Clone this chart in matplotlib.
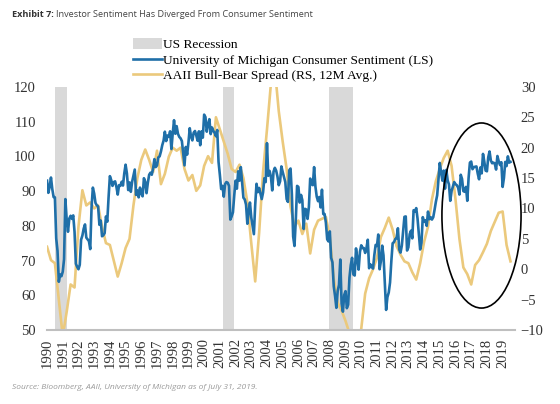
import matplotlib

matplotlib.use("Agg")
import matplotlib.pyplot as plt
import numpy as np
from matplotlib.lines import Line2D
from matplotlib.patches import Ellipse, Patch


# University of Michigan Consumer Sentiment, monthly, Jan 1990 - Jul 2019
UMICH = [
    93.0, 89.5, 91.3, 93.9, 90.6, 88.3, 88.2, 76.4, 72.8, 63.9, 66.0, 65.5,
    66.8, 70.4, 87.7, 81.8, 78.3, 82.1, 82.9, 82.0, 83.0, 78.3, 69.1, 68.2,
    67.5, 68.8, 76.0, 77.2, 79.2, 80.4, 76.6, 76.1, 75.6, 73.3, 85.3, 91.0,
    89.3, 86.6, 85.9, 85.6, 80.3, 81.5, 77.0, 77.3, 77.9, 82.7, 81.2, 88.2,
    94.3, 93.2, 91.5, 92.6, 92.8, 91.2, 89.0, 91.7, 91.5, 92.7, 91.6, 95.1,
    97.6, 95.1, 90.3, 92.5, 89.8, 92.7, 94.4, 96.2, 88.9, 90.2, 88.2, 91.0,
    89.3, 88.5, 93.7, 92.7, 89.4, 92.4, 94.7, 95.3, 94.7, 96.5, 99.2, 96.9,
    97.4, 99.7, 100.0, 101.4, 103.2, 104.5, 107.1, 104.4, 106.0, 105.6, 107.2, 102.1,
    106.6, 110.4, 106.5, 108.7, 106.5, 105.6, 105.2, 104.4, 100.9, 97.4, 102.7, 100.5,
    103.9, 108.1, 105.7, 104.6, 106.8, 107.3, 106.0, 104.5, 107.2, 103.2, 107.2, 105.4,
    112.0, 111.3, 107.1, 109.2, 110.7, 106.4, 108.3, 107.3, 106.8, 105.8, 107.6, 98.4,
    94.7, 90.6, 91.5, 88.4, 92.0, 92.6, 92.4, 91.5, 81.8, 82.7, 83.9, 88.8,
    93.0, 90.7, 95.7, 93.0, 96.9, 92.4, 88.1, 87.6, 86.1, 80.6, 84.2, 86.7,
    82.4, 79.9, 77.6, 86.0, 92.1, 89.7, 90.9, 89.3, 87.7, 89.6, 93.7, 92.6,
    103.8, 94.4, 95.8, 94.2, 90.2, 95.6, 96.7, 95.9, 94.2, 91.7, 92.8, 97.1,
    95.5, 94.1, 92.6, 87.7, 86.9, 96.0, 96.5, 89.1, 76.9, 74.2, 81.6, 91.5,
    91.2, 86.7, 88.9, 87.4, 79.1, 84.9, 84.7, 82.0, 85.4, 93.6, 92.1, 91.7,
    96.9, 91.3, 88.4, 87.1, 88.3, 85.3, 90.4, 83.4, 83.4, 80.9, 76.1, 75.5,
    78.4, 70.8, 69.5, 62.6, 59.8, 56.4, 61.2, 63.0, 70.3, 57.6, 55.3, 60.1,
    61.2, 56.3, 57.3, 65.1, 68.7, 70.8, 66.0, 65.7, 73.5, 70.6, 67.4, 72.5,
    74.4, 73.6, 73.6, 72.2, 73.6, 76.0, 67.8, 68.9, 68.2, 67.7, 71.6, 74.5,
    74.2, 77.5, 67.5, 69.8, 74.3, 71.5, 63.7, 55.8, 59.5, 60.8, 63.7, 69.9,
    75.0, 75.3, 76.2, 76.4, 79.3, 73.2, 72.3, 74.3, 78.3, 82.6, 82.7, 72.9,
    73.8, 77.6, 78.6, 76.4, 84.5, 84.1, 85.1, 82.1, 77.5, 73.2, 75.1, 82.5,
    81.2, 81.6, 80.0, 84.1, 81.9, 82.5, 81.8, 82.5, 84.6, 86.9, 88.8, 93.6,
    98.1, 95.4, 93.0, 95.9, 90.7, 96.1, 93.1, 91.9, 87.2, 90.0, 91.3, 92.6,
    92.0, 91.7, 91.0, 89.0, 94.7, 93.5, 90.0, 89.8, 91.2, 87.2, 93.8, 98.2,
    98.5, 96.3, 96.9, 97.0, 97.1, 95.0, 93.4, 96.8, 95.1, 100.7, 98.5, 95.9,
    95.7, 99.7, 101.4, 98.8, 98.0, 98.2, 97.9, 96.2, 100.1, 98.6, 97.5, 98.3,
    91.2, 93.8, 98.4, 97.2, 100.0, 98.2, 98.4,
]

# AAII Bull-Bear spread, 12M average, quarterly readings, Q1 1990 - Q3 2019
AAII = [
    3.7, 1.5, 1.0, -5.0,
    -11.0, -7.0, -2.5, -3.0,
    7.0, 13.0, 10.5, 11.0,
    10.0, 10.5, 7.0, 4.3,
    4.0, 1.4, -1.2, 1.0,
    3.5, 5.0, 10.5, 15.0,
    18.0, 19.7, 18.0, 16.0,
    19.5, 14.0, 15.7, 18.5,
    20.0, 19.5, 20.0, 16.5,
    14.6, 15.5, 12.9, 13.8,
    17.0, 18.6, 17.5, 25.0,
    23.0, 21.0, 19.0, 16.5,
    16.0, 17.2, 15.0, 11.0,
    4.3, -2.0, 6.0, 16.0,
    23.0, 30.5, 33.0, 26.0,
    21.0, 16.5, 10.3, 7.0,
    8.0, 5.8, 7.5, 2.6,
    6.5, 8.0, 8.3, 8.6,
    5.3, -1.5, -5.5, -6.8,
    -8.5, -10.5, -12.0, -12.0,
    -9.8, -4.0, -1.5, 0.0,
    1.9, 5.3, 6.8, 8.5,
    6.5, 3.8, 2.4, 1.3,
    1.0, -0.5, -1.7, 1.0,
    4.5, 7.0, 11.5, 14.5,
    16.5, 18.3, 19.5, 17.0,
    11.5, 5.0, 0.3, -0.8,
    -2.5, 0.7, 1.5, 2.8,
    4.2, 6.3, 7.8, 9.3,
    9.5, 4.0, 1.3,
]

RECESSIONS = [(1990.5, 1991.25), (2001.2, 2001.9), (2007.95, 2009.5)]
YEARS = list(range(1990, 2020))

BLUE = "#1f6fa8"
GOLD = "#ebc97c"
GREY = "#d9d9d9"
SERIF = "Liberation Serif"

umich_x = 1990 + np.arange(len(UMICH)) / 12.0
aaii_x = 1990 + np.arange(len(AAII)) / 4.0

fig = plt.figure(figsize=(5.6, 4.04), dpi=100, facecolor="white")
ax = fig.add_axes([0.084, 0.183, 0.836, 0.602])
ax2 = ax.twinx()
ax.set_zorder(2)
ax.patch.set_visible(False)

for start, end in RECESSIONS:
    ax2.axvspan(start, end, color=GREY, lw=0, zorder=0)
ax2.plot(aaii_x, AAII, color=GOLD, lw=1.9, zorder=2)
ax.plot(umich_x, UMICH, color=BLUE, lw=1.9, zorder=3)

ax.set_xlim(1990, 2019.8)
ax.set_ylim(50, 120)
ax2.set_ylim(-10, 30)
ax.set_yticks(range(50, 121, 10))
ax2.set_yticks(range(-10, 31, 5))
ax.set_xticks(YEARS)
ax.set_xticklabels([str(y) for y in YEARS], rotation=90, family=SERIF,
                   fontsize=10.5, color="#333333")
for label in ax.get_yticklabels() + ax2.get_yticklabels():
    label.set_family(SERIF)
    label.set_fontsize(10.5)
    label.set_color("#333333")
ax.tick_params(axis="y", length=0, pad=8)
ax.tick_params(axis="x", length=0, pad=6)
ax2.tick_params(length=0, pad=4)

for axis in (ax, ax2):
    for side in ("top", "left", "right", "bottom"):
        axis.spines[side].set_visible(False)
ax.spines["bottom"].set_visible(True)
ax.spines["bottom"].set_color("#bfbfbf")
ax.spines["bottom"].set_linewidth(1.5)

ax.add_patch(Ellipse((0.928, 0.471), 0.169, 0.761, transform=ax.transAxes,
                     fill=False, edgecolor="black", lw=1.2, clip_on=False,
                     zorder=5))

handles = [
    Patch(facecolor=GREY, edgecolor="none"),
    Line2D([], [], color=BLUE, lw=1.9),
    Line2D([], [], color=GOLD, lw=1.9),
]
labels = [
    "US Recession",
    "University of Michigan Consumer Sentiment (LS)",
    "AAII Bull-Bear Spread (RS, 12M Avg.)",
]
fig.legend(handles, labels, loc="upper left", bbox_to_anchor=(0.237, 0.905),
           frameon=False, prop={"family": SERIF, "size": 9.6},
           handlelength=2.2, handleheight=0.8, handletextpad=0.05,
           labelspacing=0.2, borderaxespad=0, borderpad=0)

bold = fig.text(0.021, 0.965, "Exhibit 7:", family="Open Sans", fontsize=6.6,
                fontweight="bold", color="#333333", va="center")
fig.canvas.draw()
bbox = bold.get_window_extent().transformed(fig.transFigure.inverted())
fig.text(bbox.x1 + 0.004, 0.965,
         "Investor Sentiment Has Diverged From Consumer Sentiment",
         family="Open Sans", fontsize=6.6, color="#444444", va="center")
fig.text(0.021, 0.04,
         "Source: Bloomberg, AAII, University of Michigan as of July 31, 2019.",
         family="Open Sans", fontsize=6.0, style="italic", color="#9a9a9a",
         va="center")

fig.savefig("out.png", dpi=100, facecolor="white")
